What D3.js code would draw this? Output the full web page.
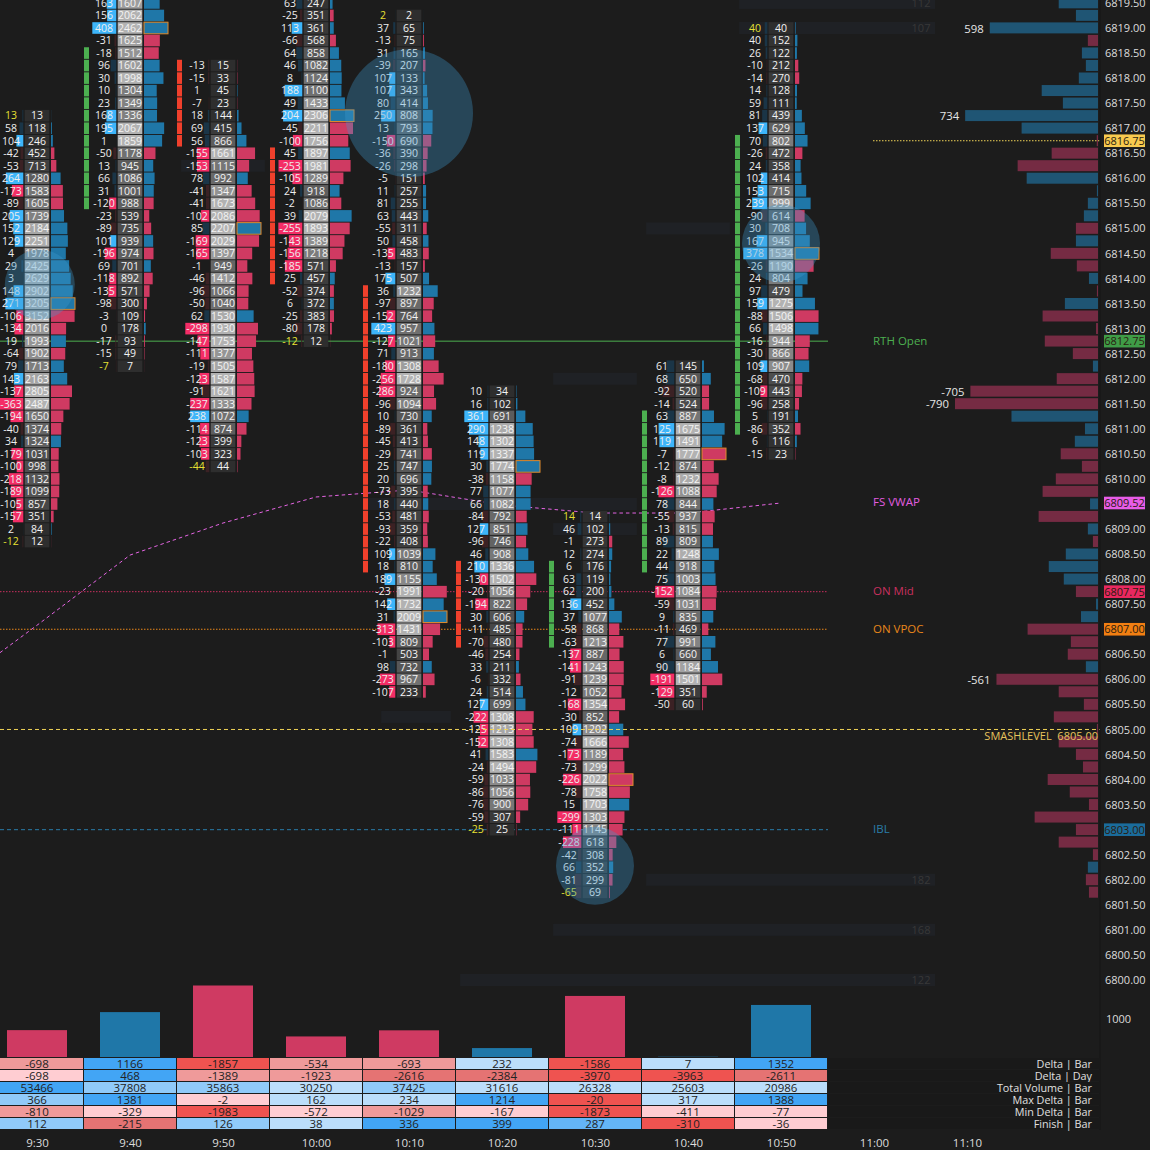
<!DOCTYPE html>
<html><head><meta charset="utf-8">
<script src="https://cdn.jsdelivr.net/npm/d3@7"></script>
<style>
html,body{margin:0;padding:0;background:#1c1c1c;overflow:hidden}
svg{display:block}
text{font-family:"Open Sans","Noto Sans",sans-serif}
</style></head><body>
<svg id="c" width="1150" height="1150"></svg>
<script>
// ---------- data ----------
const timeLabels=["9:30","9:40","9:50","10:00","10:10","10:20","10:30","10:40","10:50","11:00","11:10"];
const startPrices=[6817.25,6819.5,6818.25,6819.5,6819.25,6811.75,6809.25,6812.25,6819];
const deltas=[
[13,58,104,-42,-53,264,-173,-89,205,152,129,4,29,3,148,271,-106,-134,19,-64,79,143,-137,-363,-194,-40,34,-179,-100,-218,-189,-105,-157,2,-12],
[163,156,408,-31,-18,96,30,10,23,168,195,1,-50,13,66,31,-120,-23,-89,101,-196,69,-118,-135,-98,-3,0,-17,-15,-7],
[-13,-15,1,-7,18,69,56,-155,-153,78,-41,-41,-102,85,-169,-165,-1,-46,-96,-50,62,-298,-147,-111,-19,-123,-91,-237,238,-114,-123,-103,-44],
[63,-25,113,-66,64,46,8,188,49,204,-45,-100,45,-253,-105,24,-2,39,-255,-143,-156,-185,25,-52,6,-25,-80,-12],
[2,37,-13,31,-39,107,107,80,250,13,-150,-36,-26,-5,11,81,63,-55,50,-135,-13,175,36,-97,-152,423,-127,71,-180,-256,-286,-96,10,-89,-45,-29,25,20,-73,18,-53,-93,-22,109,18,189,-23,142,31,-313,-103,-1,98,-273,-107],
[10,16,361,290,148,119,30,-38,77,66,-84,127,-96,46,210,-130,-20,-194,30,-11,-70,-46,33,-6,24,127,-222,-125,-152,41,-24,-59,-86,-76,-59,-25],
[14,46,-1,12,6,63,62,136,37,-58,-63,-137,-141,-91,-12,-168,-30,109,-74,-173,-73,-226,-78,15,-299,-111,-228,-42,66,-81,-65],
[61,68,-92,-14,63,125,119,-7,-12,-8,-126,78,-55,-13,89,22,44,75,-152,-59,9,-11,77,6,90,-191,-129,-50],
[40,40,26,-10,-14,14,59,81,137,70,-26,24,102,153,239,-90,30,167,378,-26,24,97,159,-88,66,-16,-30,109,-68,-109,-96,5,-86,6,-15]
];
const volumes=[
[13,118,246,452,713,1280,1583,1605,1739,2184,2251,1978,2425,2629,2902,3205,3152,2016,1993,1902,1713,2163,2805,2487,1650,1374,1324,1031,998,1132,1099,857,351,84,12],
[1607,2062,2462,1625,1512,1602,1998,1304,1349,1336,2067,1859,1178,945,1086,1001,988,539,735,939,974,701,892,571,300,109,178,93,49,7],
[15,33,45,23,144,415,866,1661,1115,992,1347,1673,2086,2207,2029,1397,949,1412,1066,1040,1530,1930,1753,1377,1505,1587,1621,1333,1072,874,399,323,44],
[247,351,361,568,858,1082,1124,1100,1433,2306,2211,1756,1897,1981,1289,918,1086,2079,1893,1389,1218,571,457,374,372,383,178,12],
[2,65,75,165,207,133,343,414,808,793,690,390,298,151,257,255,443,311,458,483,157,507,1232,897,764,957,1021,913,1308,1728,924,1094,730,361,413,741,747,696,395,440,481,359,408,1039,810,1155,1991,1732,2009,1431,809,503,732,967,233],
[34,102,691,1238,1302,1337,1774,1158,1077,1082,792,851,746,908,1336,1502,1056,822,606,485,480,254,211,332,514,699,1308,1213,1308,1583,1494,1033,1056,900,307,25],
[14,102,273,274,176,119,200,452,1077,868,1213,887,1243,1239,1052,1354,852,1202,1666,1189,1299,2022,1758,1703,1303,1145,618,308,352,299,69],
[145,650,520,524,887,1675,1491,1777,874,1232,1088,844,937,815,809,1248,918,1003,1084,1031,835,469,991,660,1184,1501,351,60],
[40,152,122,212,270,128,111,439,629,802,472,358,414,715,999,614,708,945,1534,1190,804,479,1275,1506,1498,944,866,907,470,443,258,191,352,116,23]
];
const yellowDeltaRows=[[0,34],[29],[32],[27],[0],[35],[0,30],[],[0]];
const stripeStart=[null,4,0,12,22,14,4,4,9];
const stripeLen=[0,13,7,11,23,7,7,13,24];
const stripeUp=[false,true,false,false,false,false,true,true,true];
const barDelta=[-698,1166,-1857,-534,-693,232,-1586,7,1352];
const rowNames=["Delta | Bar","Delta | Day","Total Volume | Bar","Max Delta | Bar","Min Delta | Bar","Finish | Bar"];
const rowDelta=barDelta;
const rowDay=[-698,468,-1389,-1923,-2616,-2384,-3970,-3963,-2611];
const rowVolume=[53466,37808,35863,30250,37425,31616,26328,25603,20986];
const rowMax=[366,1381,-2,162,234,1214,-20,317,1388];
const rowMin=[-810,-329,-1983,-572,-1029,-167,-1873,-411,-77];
const rowFinish=[112,-215,126,38,336,399,287,-310,-36];
const rowThresholds=[[.25,.5,.75],[.25,.5,.75],[.6,.75,.9],[.25,.5,.75],[.3,.6,.75],[.25,.5,.75]];
const profileTop=6819.5;
const profileValues=[217,122,598,-56,89,67,106,311,194,734,422,-7,-256,-444,394,6,56,78,-122,122,-261,-117,50,-6,183,-306,-11,-294,-139,28,-228,-705,-790,478,72,128,-206,-89,-233,-306,44,-328,56,-28,178,272,189,-122,11,94,-389,-150,-167,67,-561,-217,-78,-244,-6,-217,-122,-83,-278,-156,-50,-350,-122,-217,-28,56,-67,-50];
const vwapBar=[-0.4,0,1,2,3,4,5,6,7,8];
const vwapPrice=[6806.53,6807.08,6808.48,6809.12,6809.64,6809.78,6809.48,6809.32,6809.32,6809.52];
const levelNames=["RTH Open","FS VWAP","ON Mid","ON VPOC","IBL"];
const levelPrices=[6812.75,6809.52,6807.75,6807,6803];
const levelColors=["#4caf50","#e35de0","#c9305f","#e8861a","#2a7ca8"];
const tagColors=["#3f9c47","#e85ce8","#e9285f","#f27f12","#1a6c9c"];
const lowLots=[[6819.5,112,7.55],[6819,107,7.55],[6802,182,6.55],[6801,168,5.55],[6800,122,4.55]];
const faintRows=[[6816.25,1.55,2.45],[6815,6.55,7.45],[6812,5.55,6.45],[6809.5,3.55,6.45],[6809,5.55,6.45],[6805.25,3.7,4.45]];
const circleBar=[0.03,4,6,8];
const circlePrice=[6813.88,6817.3,6802.28,6814.7];
const circleR=[35,64,39,39];

// ---------- scales ----------
const y=d3.scaleLinear().domain([6819,6800]).range([28,980]);
const x=d3.scaleLinear().domain([0,10]).range([37,967]);
const hBar=d3.scaleLinear().domain([0,1000]).range([1057,1018.5]);
const netW=d3.scaleLinear().domain([0,790]).range([0,143]);
const svg=d3.select("#c");
const BLUE="#1f77a8",RED="#cf3a62",BBLUE="#3db5fa",BRED="#f42d66",DBLUE="#1a3547",DRED="#3b2124";
svg.append("rect").attr("width",1150).attr("height",1150).attr("fill","#1c1c1c");

// faint rows
svg.append("g").selectAll("rect").data(faintRows).join("rect")
 .attr("x",d=>x(d[1])).attr("width",d=>x(d[2])-x(d[1]))
 .attr("y",d=>y(d[0])-6).attr("height",12).attr("fill","#1f2125");
const lots=svg.append("g");
lots.selectAll("rect").data(lowLots).join("rect")
 .attr("x",d=>x(d[2])).attr("width",d=>935-x(d[2]))
 .attr("y",d=>y(d[0])-6).attr("height",12).attr("fill","#1f2125");
lots.selectAll("text").data(lowLots).join("text")
 .attr("x",921).attr("y",d=>y(d[0])+4).attr("text-anchor","middle")
 .attr("font-size",11).attr("fill","#383838").text(d=>d[1]);

// level lines under the footprint
const lvl=svg.append("g");
const lineEnd=828;
const dashes=["","", "1.5,1.5","1.5,1.5","4,3"];
[0,2,3,4].forEach(i=>{
 lvl.append("line").attr("x1",0).attr("x2",lineEnd).attr("y1",y(levelPrices[i])).attr("y2",y(levelPrices[i]))
  .attr("stroke",levelColors[i]).attr("stroke-dasharray",dashes[i]).attr("stroke-width",1);
});
lvl.append("path").attr("fill","none").attr("stroke","#e464e2").attr("stroke-width",1).attr("stroke-dasharray","3.5,3")
 .attr("d",d3.line().x((d,i)=>x(d)).y((d,i)=>y(vwapPrice[i]))(vwapBar));

// footprint columns
deltas.forEach((ds,c)=>{
 const vs=volumes[c], cx=x(c), g=svg.append("g");
 const py=i=>y(startPrices[c]-i*0.25);
 const maxD=d3.max(ds,Math.abs), maxV=d3.max(vs), poc=vs.indexOf(maxV);
 const dw=d3.scaleLinear().domain([0,maxD]).range([0,24]);
 const pw=d3.scaleLinear().domain([0,maxV]).range([0,24]);
 const shade=d3.scalePow().exponent(1.7).domain([0,maxV*0.72]).range([0,1]).clamp(true);
 const grey=d3.interpolateRgb("#2e2e2e","#b2b2b2");
 const rows=ds.map((d,i)=>({d,v:vs[i],i}));
 if(stripeLen[c]) g.selectAll(".s").data(d3.range(stripeStart[c],stripeStart[c]+stripeLen[c])).join("rect")
   .attr("x",cx-46).attr("width",5).attr("y",i=>py(i)-5.8).attr("height",11.6)
   .attr("fill",stripeUp[c]?"#4caf50":"#f0402c");
 g.selectAll(".d").data(rows).join("rect")
   .attr("x",r=>cx-13.7-dw(Math.abs(r.d))).attr("width",r=>dw(Math.abs(r.d)))
   .attr("y",r=>py(r.i)-5.8).attr("height",11.6)
   .attr("fill",r=>Math.abs(r.d)>=100?(r.d>=0?BBLUE:BRED):(r.d>=0?DBLUE:DRED));
 g.selectAll(".v").data(rows).join("rect")
   .attr("x",cx-12.3).attr("width",24.6).attr("y",r=>py(r.i)-5.8).attr("height",11.6)
   .attr("fill",r=>grey(shade(r.v)));
 g.selectAll(".p").data(rows).join("rect")
   .attr("x",cx+14).attr("width",r=>pw(r.v)).attr("y",r=>py(r.i)-5.8).attr("height",11.6)
   .attr("fill",r=>r.d>=0?BLUE:RED)
   .attr("stroke",r=>r.i===poc?"#e08a2c":"none").attr("stroke-width",1);
 g.selectAll(".dt").data(rows).join("text")
   .attr("x",cx-26).attr("y",r=>py(r.i)+3.8).attr("text-anchor","middle").attr("font-size",10.5)
   .attr("fill",r=>yellowDeltaRows[c].includes(r.i)?"#e6e033":"#eeeeee").text(r=>r.d);
 g.selectAll(".vt").data(rows).join("text")
   .attr("x",cx).attr("y",r=>py(r.i)+3.8).attr("text-anchor","middle").attr("font-size",10.5)
   .attr("fill","#f4f4f4").text(r=>r.v);
});

// large translucent circles
svg.append("g").selectAll("circle").data(circleBar).join("circle")
 .attr("cx",d=>x(d)).attr("cy",(d,i)=>y(circlePrice[i])).attr("r",(d,i)=>circleR[i])
 .attr("fill","rgba(62,152,205,0.34)");

// net profile on the right
const prof=svg.append("g");
prof.selectAll("rect").data(profileValues).join("rect")
 .attr("x",d=>1098-netW(Math.abs(d))).attr("width",d=>netW(Math.abs(d)))
 .attr("y",(d,i)=>y(profileTop-i*0.25)-5.6).attr("height",11)
 .attr("fill",d=>d>=0?"#1f5574":"#752b43");
prof.selectAll("text").data(profileValues.map((v,i)=>({v,i})).filter(d=>Math.abs(d.v)>=500)).join("text")
 .attr("x",d=>1098-netW(Math.abs(d.v))-6).attr("y",d=>y(profileTop-d.i*0.25)+4.5)
 .attr("text-anchor","end").attr("font-size",11.3).attr("fill","#e6e6e6").text(d=>d.v);

// smash level and current price
svg.append("line").attr("x1",0).attr("x2",1100).attr("y1",y(6805)).attr("y2",y(6805))
 .attr("stroke","#efd257").attr("stroke-dasharray","4,3");
svg.append("line").attr("x1",873).attr("x2",1100).attr("y1",y(6816.75)).attr("y2",y(6816.75))
 .attr("stroke","#efd257").attr("stroke-dasharray","1.5,1.5");
svg.append("text").attr("x",1098).attr("y",y(6805)+10.5).attr("text-anchor","end").attr("font-size",11)
 .attr("fill","#e7c45c").attr("xml:space","preserve").text("SMASHLEVEL  6805.00");

// axis divider + price axis
svg.append("line").attr("x1",1100).attr("x2",1100).attr("y1",0).attr("y2",1130).attr("stroke","#141414");
const tagged=new Set([6809.5,6807,6803]);
const tickVals=d3.range(6800,6820,0.5).filter(p=>!tagged.has(p));
const ay=svg.append("g").attr("transform","translate(1105,0)").call(
 d3.axisRight(y).tickValues(tickVals).tickFormat(d3.format(".2f")).tickSize(0).tickPadding(0));
ay.select(".domain").remove();
ay.selectAll("text").attr("font-size",11).attr("fill","#dcdcdc").attr("font-family",'"Open Sans"').attr("x",0);
const hb=svg.append("g").attr("transform","translate(1105,0)").call(
 d3.axisRight(hBar).tickValues([1000]).tickFormat(d3.format("d")).tickSize(0).tickPadding(1));
hb.select(".domain").remove();
hb.selectAll("text").attr("font-size",11).attr("fill","#dcdcdc").attr("font-family",'"Open Sans"');

// level labels and tags
const tags=[["#f8ca4f",6816.75]].concat(levelPrices.map((p,i)=>[tagColors[i],p]));
const tg=svg.append("g");
tg.selectAll("rect").data(tags).join("rect").attr("x",1104).attr("width",41)
 .attr("y",d=>y(d[1])-6.3).attr("height",12.6).attr("fill",d=>d[0]);
tg.selectAll("text").data(tags).join("text").attr("x",1124.5).attr("y",d=>y(d[1])+4)
 .attr("text-anchor","middle").attr("font-size",11).attr("fill","#2a1c10").text(d=>d3.format(".2f")(d[1]));
svg.append("g").selectAll("text").data(levelNames).join("text")
 .attr("x",873).attr("y",(d,i)=>y(levelPrices[i])+3.4).attr("font-size",11.5)
 .attr("fill",(d,i)=>levelColors[i]).text(d=>d);

// bottom delta bars
svg.append("g").selectAll("rect").data(barDelta).join("rect")
 .attr("x",(d,i)=>x(i)-30).attr("width",60)
 .attr("y",d=>hBar(Math.abs(d))).attr("height",d=>1057-hBar(Math.abs(d)))
 .attr("fill",d=>d>=0?BLUE:RED);

// table
const tableRows=[rowDelta,rowDay,rowVolume,rowMax,rowMin,rowFinish];
const blues=["#bbdefb","#90caf9","#64b5f6","#42a5f5"], reds=["#ffcdd2","#ef9a9a","#e57373","#ef5350"];
const tb=svg.append("g");
tableRows.forEach((row,r)=>{
 const ty=1058+r*12;
 const maxP=d3.max(row,v=>v>0?v:0)||1, maxN=d3.max(row,v=>v<0?-v:0)||1;
 const lvlS=d3.scaleThreshold().domain(rowThresholds[r]).range([0,1,2,3]);
 tb.append("rect").attr("x",828).attr("y",ty).attr("width",272).attr("height",11).attr("fill","#191919");
 tb.selectAll(".c"+r).data(row).join("rect")
  .attr("x",(v,i)=>x(i)-46).attr("width",92).attr("y",ty).attr("height",11)
  .attr("fill",v=>v>=0?blues[lvlS(v/maxP)]:reds[lvlS(-v/maxN)]);
 tb.selectAll(".t"+r).data(row).join("text")
  .attr("x",(v,i)=>x(i)).attr("y",ty+10).attr("text-anchor","middle").attr("font-size",11.5)
  .attr("fill","#222").text(v=>v);
 tb.append("text").attr("x",1092).attr("y",ty+10).attr("text-anchor","end").attr("font-size",10.8)
  .attr("fill","#e0e0e0").text(rowNames[r]);
});

// time axis
const ax=svg.append("g").attr("transform","translate(0,1130)").call(
 d3.axisBottom(x).tickValues(d3.range(11)).tickFormat(i=>timeLabels[i]).tickSize(0).tickPadding(9));
ax.select(".domain").remove();
ax.selectAll("text").attr("font-size",11.5).attr("fill","#dcdcdc").attr("font-family",'"Open Sans"');
</script>
</body></html>
